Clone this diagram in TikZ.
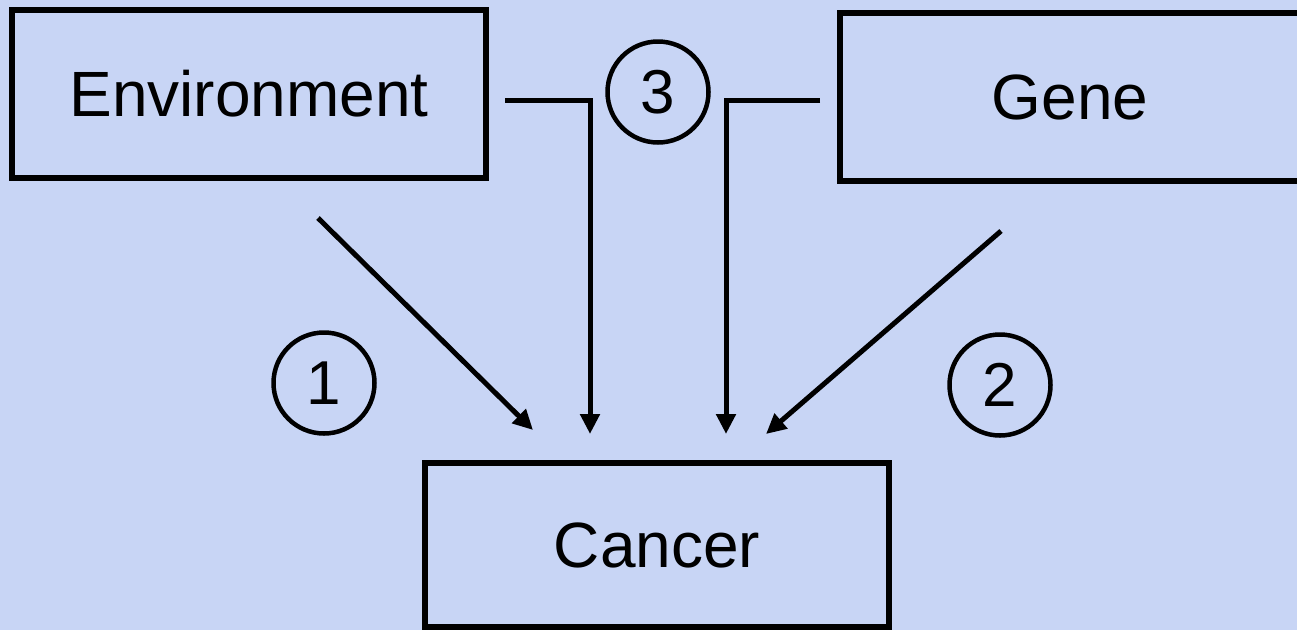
\documentclass[tikz,border=0pt]{standalone}
\usepackage{fontspec}
\setmainfont{Liberation Sans}
\usetikzlibrary{arrows.meta}
\definecolor{bgblue}{RGB}{200,213,245}
\tikzset{
  box/.style={draw=black, line width=5.5pt, rectangle, inner sep=0pt, font=\fontsize{64}{76}\selectfont},
  num/.style={draw=black, line width=4.5pt, circle, minimum size=101pt, inner sep=0pt, font=\fontsize{62}{74}\selectfont},
  conn/.style={line width=5pt, -{Triangle[length=20pt,width=19pt]}},
}
\begin{document}
\begin{tikzpicture}[x=1pt,y=-1pt]
\fill[bgblue] (0,0) rectangle (1297,630);
\useasboundingbox (0,0) rectangle (1297,630);
\node[box, minimum width=474pt, minimum height=168pt] (env) at (249,94) {Environment};
\node[box, minimum width=460pt, minimum height=168pt] (gene) at (1070,97) {Gene};
\node[box, minimum width=464pt, minimum height=164pt] (cancer) at (657,545) {Cancer};
\node[num] (n3) at (658,92) {3};
\node[num] (n1) at (324,383) {1};
\node[num] (n2) at (1000,385) {2};
\coordinate (e1) at (505,100);
\coordinate (e2) at (590,100);
\coordinate (e3) at (590,434);
\coordinate (g1) at (820,100);
\coordinate (g2) at (726,100);
\coordinate (g3) at (726,434);
\coordinate (a1s) at (318,218);
\coordinate (a1e) at (533,430);
\coordinate (a2s) at (1001,231);
\coordinate (a2e) at (766,434);
\draw[conn] (e1) -- (e2) -- (e3);
\draw[conn] (g1) -- (g2) -- (g3);
\draw[conn] (a1s) -- (a1e);
\draw[conn] (a2s) -- (a2e);
\end{tikzpicture}
\end{document}
